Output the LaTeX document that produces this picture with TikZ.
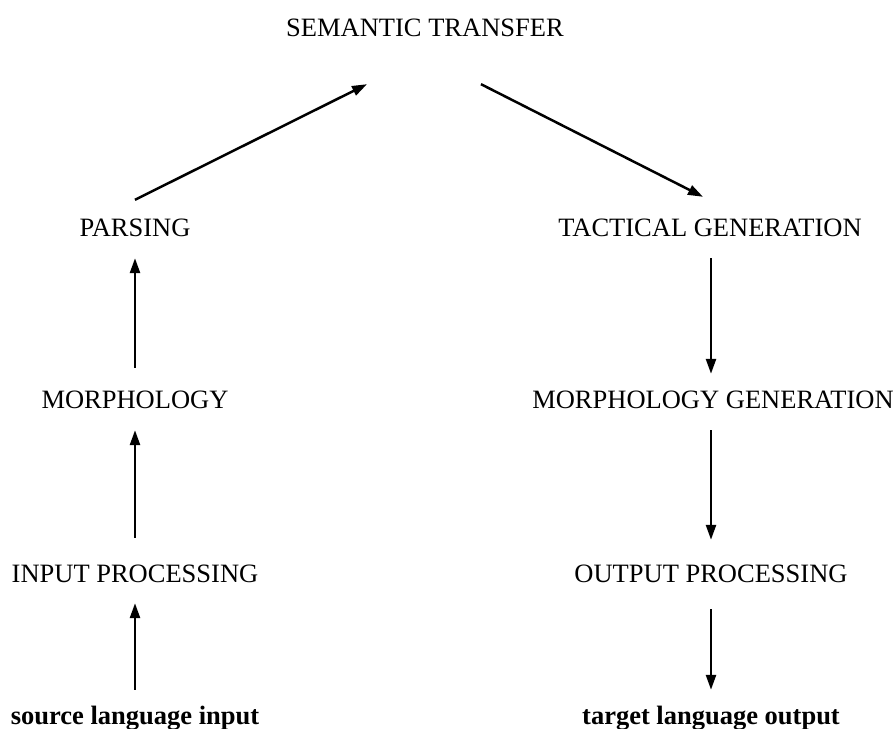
\documentclass[tikz,border=0pt]{standalone}
\usepackage{fontspec}
\setmainfont{Liberation Serif}
\usetikzlibrary{arrows.meta}
\begin{document}
\begin{tikzpicture}[x=1bp,y=1bp,
  lbl/.style={anchor=base,inner sep=0pt,text height=18bp,text depth=6bp,font=\fontsize{26.5bp}{30bp}\selectfont},
  blbl/.style={lbl,font=\fontsize{26.5bp}{30bp}\selectfont\bfseries},
  arr/.style={line width=2.5bp,-{Triangle[length=15bp,width=10bp]}}]
\useasboundingbox (0,0) rectangle (893,729);
% nodes (baseline positions; y = 729 - pixel y)
\node[lbl] (sem) at (425,692) {SEMANTIC TRANSFER};
\node[lbl] (pars) at (135,492) {PARSING};
\node[lbl] (morph) at (135,320) {MORPHOLOGY};
\node[lbl] (inp) at (135,146) {INPUT PROCESSING};
\node[blbl] (src) at (135,4) {source language input};
\node[lbl] (tact) at (710,492) {TACTICAL GENERATION};
\node[lbl] (mgen) at (713,320) {MORPHOLOGY GENERATION};
\node[lbl] (outp) at (711,146) {OUTPUT PROCESSING};
\node[blbl] (tgt) at (711,4) {target language output};
% left column
\draw[arr,shorten <=17bp,shorten >=14bp] (src.north) -- (inp.south);
\draw[arr,shorten <=27bp,shorten >=15bp] (inp.north) -- (morph.south);
\draw[arr,shorten <=23bp,shorten >=15bp] (morph.north) -- (pars.south);
% diagonals
\draw[arr] ([yshift=19bp]pars.north) -- ([xshift=-58bp,yshift=-41bp]sem.south);
\draw[arr] ([xshift=56bp,yshift=-41bp]sem.south) -- ([xshift=-7bp,yshift=22bp]tact.north);
% right column
\draw[arr,shorten <=15bp,shorten >=17bp] ([xshift=1bp]tact.south) -- ([xshift=1bp]tact.south |- mgen.north);
\draw[arr,shorten <=15bp,shorten >=25bp] (outp.north |- mgen.south) -- (outp.north);
\draw[arr,shorten <=20bp,shorten >=17bp] (outp.south) -- (tgt.north);
\end{tikzpicture}
\end{document}
